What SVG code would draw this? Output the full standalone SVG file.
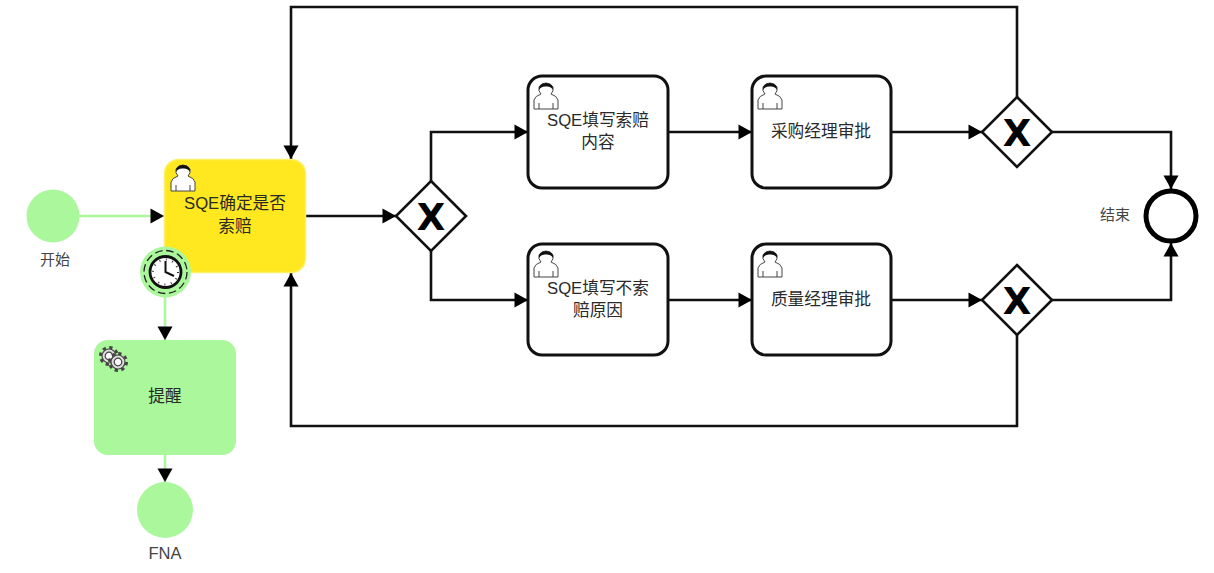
<svg xmlns="http://www.w3.org/2000/svg" width="1214" height="573" viewBox="0 0 1214 573">
<style>
text{font-family:"Liberation Sans","Noto Sans CJK SC",sans-serif;font-size:16.700px;fill:#2a2a2a;text-anchor:middle}
.task{fill:#fff;stroke:#111;stroke-width:3}
.gw{fill:#fff;stroke:#111;stroke-width:2.600}
text.x{font-family:"DejaVu Sans",sans-serif;font-weight:bold;font-size:37px;fill:#000}
.c{fill:none;stroke:#111;stroke-width:2.600}
.g{fill:none;stroke:#aaf79c;stroke-width:2.600}
text.lab{fill:#444;font-size:15px}
</style>
<defs>
<marker id="a" viewBox="0 0 16 16" refX="15" refY="8" markerWidth="16" markerHeight="16" markerUnits="userSpaceOnUse" orient="auto"><path d="M1.500 0.500L15 8L1.500 15.500Z" fill="#000"/></marker>
<g id="user">
<path d="M1 26V17Q2 13 8 11Q5 8 6 4Q8 0 13 0Q18 0 20 4Q21 8 18 11Q24 13 25 17V26Z" fill="#fff" stroke="#444" stroke-width="1"/>
<path d="M6 7Q5 1 13 0Q21 1 20 7Q18 3 13 3.500Q8 3 6 7Z" fill="#111"/>
<path d="M6 26V20M20 26V20" stroke="#444" stroke-width="1" fill="none"/>
</g>
<g id="gear" fill="none" stroke="#444">
<circle r="8.500" stroke-width="3" stroke-dasharray="3.300 3.370"/><circle r="7" stroke-width="1.200" fill="#ddd"/><circle r="3.800" stroke-width="1.200" fill="#fff"/>
</g>
</defs>
<rect width="1214" height="573" fill="#fff"/>
<g id="connectors">
<path class="g" d="M79 216H164" marker-end="url(#a)"/>
<path class="g" d="M165 297V340" marker-end="url(#a)"/>
<path class="g" d="M165 455V482" marker-end="url(#a)"/>
<path class="c" d="M306 216H396" marker-end="url(#a)"/>
<path class="c" d="M431 181V132H528" marker-end="url(#a)"/>
<path class="c" d="M431 251V300H528" marker-end="url(#a)"/>
<path class="c" d="M668 132H752" marker-end="url(#a)"/>
<path class="c" d="M668 300H752" marker-end="url(#a)"/>
<path class="c" d="M891 132H982" marker-end="url(#a)"/>
<path class="c" d="M891 300H982" marker-end="url(#a)"/>
<path class="c" d="M1052 132H1171V189" marker-end="url(#a)"/>
<path class="c" d="M1052 300H1171V243" marker-end="url(#a)"/>
<path class="c" d="M1017 97V7H291V159" marker-end="url(#a)"/>
<path class="c" d="M1017 335V426H291V273" marker-end="url(#a)"/>
</g>
<g id="start"><circle cx="53" cy="216" r="26.500" fill="#aaf79c"/><text class="lab" x="55" y="265">开始</text></g>
<g id="task-confirm"><rect x="164.500" y="159.500" width="141" height="113" rx="14" fill="#ffe81f" stroke="#fff06a" stroke-width="1.500"/><use href="#user" x="170" y="165"/><text x="235" y="209">SQE确定是否</text><text x="235" y="232">索赔</text></g>
<g id="timer"><circle cx="165.500" cy="272" r="25.500" fill="#aaf79c"/><circle cx="165.500" cy="272" r="21.500" fill="none" stroke="#222" stroke-width="1.300" stroke-dasharray="7.500 3.760"/><circle cx="165.500" cy="272" r="15.500" fill="#fff" stroke="#111" stroke-width="2.800"/><path d="M165.500 261V272L174 276" fill="none" stroke="#111" stroke-width="2"/><circle cx="165.500" cy="272" r="12.500" fill="none" stroke="#333" stroke-width="2" stroke-dasharray="1 5.540"/></g>
<g id="task-remind"><rect x="94" y="340" width="142" height="115" rx="14" fill="#aaf79c"/><use href="#gear" x="109" y="356"/><use href="#gear" x="118" y="362"/><text x="165" y="402">提醒</text></g>
<g id="end-fna"><circle cx="165" cy="510" r="28" fill="#aaf79c"/><text class="lab" style="font-size:16.500px" x="165" y="559">FNA</text></g>
<g id="gateway-1"><path class="gw" d="M431 181L466 216L431 251L396 216Z"/><text class="x" x="431" y="230">X</text></g>
<g id="task-fill-claim"><rect class="task" x="528" y="76" width="140" height="112" rx="14"/><use href="#user" x="533" y="83"/><text x="598" y="126">SQE填写索赔</text><text x="598" y="148">内容</text></g>
<g id="task-purchase"><rect class="task" x="752" y="76" width="139" height="112" rx="14"/><use href="#user" x="757" y="83"/><text x="821" y="137">采购经理审批</text></g>
<g id="task-fill-reason"><rect class="task" x="528" y="244" width="140" height="111" rx="14"/><use href="#user" x="533" y="251"/><text x="598" y="294">SQE填写不索</text><text x="598" y="316">赔原因</text></g>
<g id="task-quality"><rect class="task" x="752" y="244" width="139" height="111" rx="14"/><use href="#user" x="757" y="251"/><text x="821" y="305">质量经理审批</text></g>
<g id="gateway-2"><path class="gw" d="M1017 97L1052 132L1017 167L982 132Z"/><text class="x" x="1017" y="146">X</text></g>
<g id="gateway-3"><path class="gw" d="M1017 265L1052 300L1017 335L982 300Z"/><text class="x" x="1017" y="314">X</text></g>
<g id="end"><circle cx="1171" cy="216" r="25" fill="#fff" stroke="#000" stroke-width="5"/><text class="lab" x="1115" y="220">结束</text></g>
</svg>
